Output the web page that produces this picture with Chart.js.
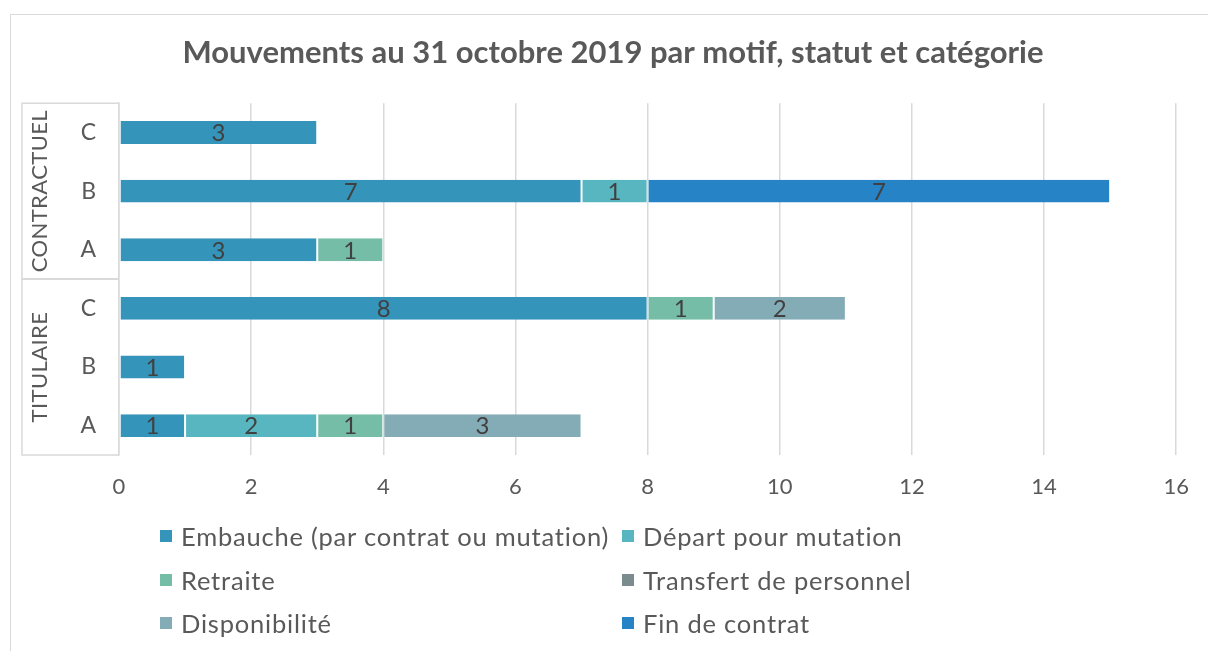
<!DOCTYPE html>
<html>
<head>
<meta charset="utf-8">
<script src="https://cdn.jsdelivr.net/npm/chart.js@4"></script>
<style>
  body { margin: 0; background: #fff; }
  #wrap { position: relative; width: 1208px; height: 651px; overflow: hidden; }
  #frame { position: absolute; left: 10px; top: 14px; width: 1300px; height: 800px; border: 1px solid #d9d9d9; }
  #chartBox { position: absolute; left: 0; top: 0; width: 1208px; height: 651px; }
  #legend { position: absolute; left: 160px; top: 520px; display: grid; grid-template-columns: 462px auto; row-gap: 11.5px;
            font-family: Lato, sans-serif; font-size: 25.5px; letter-spacing: 0.8px; color: #595959; }
  .item { display: flex; align-items: center; height: 32px; white-space: nowrap; }
  .swatch { width: 12px; height: 12px; margin-right: 9px; flex: none; }
</style>
</head>
<body>
<div id="wrap">
  <div id="frame"></div>
  <div id="chartBox"><canvas id="movesChart"></canvas></div>
  <div id="legend"></div>
</div>
<script>
// categories, top to bottom
const categories = ['C', 'B', 'A', 'C', 'B', 'A'];
const groupNames = ['CONTRACTUEL', 'TITULAIRE'];
const groupSizes = [3, 3];
const xTicks = [0, 2, 4, 6, 8, 10, 12, 14, 16];

// series values (same order as categories)
const embauche      = [3, 7, 3, 8, 1, 1];
const departMut     = [0, 1, 0, 0, 0, 2];
const retraite      = [0, 0, 1, 1, 0, 1];
const transfert     = [0, 0, 0, 0, 0, 0];
const disponibilite = [0, 0, 0, 2, 0, 3];
const finContrat    = [0, 7, 0, 0, 0, 0];

const FONT = 'Lato, sans-serif';
const TEXT = '#595959';

// draws the value in the middle of each segment
const barLabels = {
    id: 'barLabels',
    afterDatasetsDraw(chart) {
        const ctx = chart.ctx;
        ctx.save();
        ctx.font = '24px ' + FONT;
        ctx.fillStyle = '#404040';
        ctx.textAlign = 'center';
        ctx.textBaseline = 'middle';
        chart.data.datasets.forEach((ds, i) => {
            chart.getDatasetMeta(i).data.forEach((bar, j) => {
                const v = ds.data[j];
                if (!v) return;
                const p = bar.getProps(['x', 'y', 'base'], true);
                ctx.fillText(v, (p.x + p.base) / 2, p.y + 1);
            });
        });
        ctx.restore();
    }
};

// boxes with the rotated status names left of the letters
const groupBoxes = {
    id: 'groupBoxes',
    afterDraw(chart) {
        const ctx = chart.ctx;
        const y = chart.scales.y;
        const left = 22, right = chart.chartArea.left;
        ctx.save();
        ctx.strokeStyle = '#d9d9d9';
        ctx.lineWidth = 1.5;
        let start = 0;
        groupSizes.forEach((n, g) => {
            const top = y.getPixelForValue(start - 0.5);
            const bottom = y.getPixelForValue(start + n - 0.5);
            ctx.beginPath();
            ctx.moveTo(right, top); ctx.lineTo(left, top); ctx.lineTo(left, bottom); ctx.lineTo(right, bottom);
            ctx.stroke();
            ctx.save();
            ctx.translate(40, (top + bottom) / 2);
            ctx.rotate(-Math.PI / 2);
            ctx.font = '22px ' + FONT;
            ctx.letterSpacing = '0.4px';
            ctx.fillStyle = TEXT;
            ctx.textAlign = 'center';
            ctx.textBaseline = 'middle';
            ctx.fillText(groupNames[g], 0, 0);
            ctx.restore();
            start += n;
        });
        ctx.restore();
    }
};

const ctx = document.getElementById('movesChart').getContext('2d');

const chart = new Chart(ctx, {
    type: 'bar',
    data: {
        labels: categories,
        datasets: [
            { label: 'Embauche (par contrat ou mutation)', data: embauche, backgroundColor: '#3494BA' },
            { label: 'Départ pour mutation', data: departMut, backgroundColor: '#58B6C0' },
            { label: 'Retraite', data: retraite, backgroundColor: '#75BDA7' },
            { label: 'Transfert de personnel', data: transfert, backgroundColor: '#7A8C8E' },
            { label: 'Disponibilité', data: disponibilite, backgroundColor: '#84ACB6' },
            { label: 'Fin de contrat', data: finContrat, backgroundColor: '#2683C6' }
        ]
    },
    options: {
        indexAxis: 'y',
        responsive: true,
        maintainAspectRatio: false,
        animation: false,
        datasets: {
            bar: {
                barPercentage: 0.39,
                categoryPercentage: 1,
                borderWidth: { left: 1, right: 1 },
                borderColor: 'rgba(255,255,255,0.2)',
                borderSkipped: false
            }
        },
        // left padding keeps the title centred like the original
        layout: { padding: { left: 49, right: 31, top: 0, bottom: 146 } },
        plugins: {
            legend: { display: false },
            tooltip: { enabled: false },
            title: {
                display: true,
                text: 'Mouvements au 31 octobre 2019 par motif, statut et catégorie',
                color: TEXT,
                font: { family: FONT, size: 31, weight: 'bold' },
                padding: { top: 34, bottom: 32 }
            }
        },
        scales: {
            x: {
                stacked: true,
                min: 0,
                max: 16,
                afterBuildTicks: s => { s.ticks = xTicks.map(v => ({ value: v })); },
                grid: { color: '#d9d9d9', lineWidth: 1.5, drawTicks: false },
                border: { display: false },
                ticks: { color: TEXT, font: { family: FONT, size: 22 }, padding: 19 },
                afterFit: s => { s.height = 50; }
            },
            y: {
                stacked: true,
                grid: { display: false, drawTicks: false },
                border: { display: true, color: '#d9d9d9', width: 1.5 },
                ticks: { color: TEXT, font: { family: FONT, size: 23 }, padding: 23 },
                afterFit: s => { s.width = 70; }
            }
        }
    },
    plugins: [barLabels, groupBoxes]
});

// legend in two columns, built from the datasets
const legendBox = document.getElementById('legend');
chart.data.datasets.forEach(ds => {
    const item = document.createElement('div');
    item.className = 'item';
    item.innerHTML = `<span class="swatch" style="background:${ds.backgroundColor}"></span><span>${ds.label}</span>`;
    legendBox.appendChild(item);
});
</script>
</body>
</html>
